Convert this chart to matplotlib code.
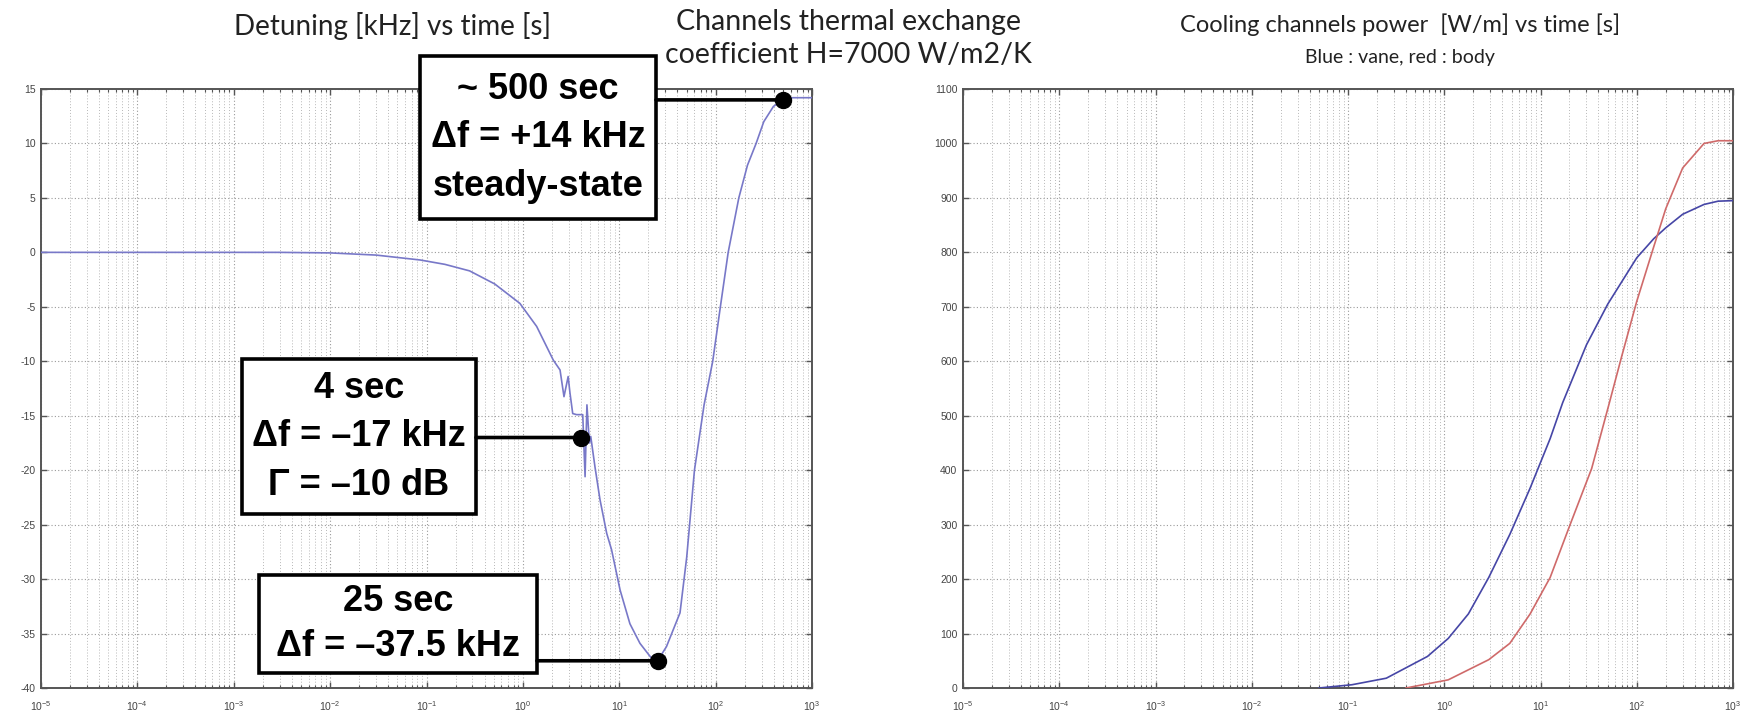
import numpy as np
import matplotlib
matplotlib.use("Agg")
import matplotlib.pyplot as plt
import matplotlib.transforms as mtransforms
from matplotlib.patches import Rectangle
from matplotlib.ticker import LogLocator, MultipleLocator, NullFormatter

plt.rcParams["axes.unicode_minus"] = False

# ---- detuning vs time ----
det_t = [1e-5, 1e-4, 1e-3, 3e-3, 1e-2, 0.03, 0.086, 0.155, 0.28, 0.51, 0.93, 1.39,
         2.07, 2.43, 2.67, 2.95, 3.08, 3.29, 3.61, 4.18, 4.42, 4.62, 4.90, 5.06,
         5.60, 6.31, 7.41, 8.32, 10.2, 12.9, 16.4, 20.9, 22.4, 25.0, 30.9, 42.7,
         50.1, 60.3, 75.9, 93.3, 112, 135, 174, 214, 263, 316, 398, 500, 631, 1000]
det_khz = [0.0, 0.0, 0.0, 0.0, -0.05, -0.25, -0.7, -1.1, -1.7, -2.9, -4.68, -6.8,
           -9.9, -10.8, -13.25, -11.4, -12.9, -14.8, -14.9, -14.9, -20.6, -14.0, -17.5, -16.9,
           -19.7, -22.7, -25.8, -27.3, -31.0, -34.1, -35.9, -37.1, -37.4, -37.5, -36.2, -33.1,
           -28.0, -20.0, -14.0, -10.0, -5.0, 0.0, 5.0, 8.0, 10.0, 12.0, 13.4, 14.0, 14.2, 14.2]

# annotated operating points (time [s], detuning [kHz])
note_t = [500, 4, 25]
note_khz = [14, -17, -37.5]
note_text = ["~ 500 sec\n\u0394f = +14 kHz\nsteady-state",
             "4 sec\n\u0394f = \u201317 kHz\n\u0393 = \u201310 dB",
             "25 sec\n\u0394f = \u201337.5 kHz"]

# ---- cooling channel power vs time ----
vane_t = [0.05, 0.11, 0.25, 0.67, 1.1, 1.78, 2.9, 4.8, 7.8, 12.6, 17, 30, 50, 100,
          150, 200, 300, 500, 700, 1000]
vane_w = [0, 6, 18, 58, 91, 136, 203, 282, 367, 458, 524, 630, 705, 790,
          825, 845, 870, 888, 894, 895]
body_t = [0.4, 1.1, 2.9, 4.8, 7.8, 12.6, 20, 34, 52, 70, 100, 150, 200, 300,
          500, 700, 1000]
body_w = [0, 15, 52, 82, 136, 203, 297, 403, 524, 610, 710, 810, 880, 955,
          1000, 1005, 1005]

FIG_W, FIG_H = 1743, 720
fig = plt.figure(figsize=(FIG_W / 100, FIG_H / 100), dpi=100)
fig.patch.set_facecolor("white")


def px_axes(x0, y0, x1, y1):
    return fig.add_axes([x0 / FIG_W, 1 - y1 / FIG_H, (x1 - x0) / FIG_W, (y1 - y0) / FIG_H])


def style_axes(ax):
    ax.set_xscale("log")
    ax.set_xlim(1e-5, 1e3)
    ax.xaxis.set_major_locator(LogLocator(base=10, numticks=20))
    ax.xaxis.set_minor_locator(LogLocator(base=10, subs=np.arange(2, 10), numticks=20))
    ax.xaxis.set_minor_formatter(NullFormatter())
    ax.grid(True, which="major", axis="both", linestyle=(0, (1, 2)), color="#9a9a9a", lw=0.8)
    ax.grid(True, which="minor", axis="x", linestyle=(0, (1, 2)), color="#b8b8b8", lw=0.7)
    ax.tick_params(which="both", direction="in", top=True, right=True,
                   colors="#555555", labelcolor="#444444", labelsize=7.5)
    ax.tick_params(axis="y", pad=4)
    ax.tick_params(axis="x", pad=8)
    ax.tick_params(which="major", length=4, width=1.0)
    ax.tick_params(which="minor", length=2.5, width=0.8)
    for s in ax.spines.values():
        s.set_color("#555555")
        s.set_linewidth(1.4)
    for lab in ax.get_xticklabels() + ax.get_yticklabels():
        lab.set_fontfamily("Liberation Sans")


# left panel: detuning
ax1 = px_axes(41, 89, 812, 688)
style_axes(ax1)
ax1.set_ylim(-40, 15)
ax1.yaxis.set_major_locator(MultipleLocator(5))
ax1.plot(det_t, det_khz, color="#7878c8", lw=1.2, zorder=3)

# right panel: cooling power
ax2 = px_axes(963, 89, 1733, 688)
style_axes(ax2)
ax2.set_ylim(0, 1100)
ax2.yaxis.set_major_locator(MultipleLocator(100))
ax2.plot(vane_t, vane_w, color="#4646a6", lw=1.2, zorder=3)
ax2.plot(body_t, body_w, color="#cf6a6a", lw=1.2, zorder=3)

# annotation boxes (axes-fraction extents: x0, x1, y0, y1)
boxes = [(0.4916, 0.7977, 0.783, 1.055),
         (0.2607, 0.5642, 0.290, 0.549),
         (0.2827, 0.6433, 0.025, 0.1886)]
spacing = [1.5, 1.5, 1.38]
blend = mtransforms.blended_transform_factory(ax1.transAxes, ax1.transData)
for (x0, x1, y0, y1), t, v, txt, ls in zip(boxes, note_t, note_khz, note_text, spacing):
    ax1.add_patch(Rectangle((x0, y0), x1 - x0, y1 - y0, transform=ax1.transAxes,
                            facecolor="white", edgecolor="black", lw=2.6,
                            clip_on=False, zorder=6))
    ax1.text((x0 + x1) / 2, (y0 + y1) / 2, txt, transform=ax1.transAxes,
             ha="center", va="center", fontsize=26, fontweight="bold",
             family="Liberation Sans", linespacing=ls, zorder=7, clip_on=False)
    ax1.annotate("", xy=(t, v), xycoords="data", xytext=(x1, v), textcoords=blend,
                 arrowprops=dict(arrowstyle="-", lw=2.6, color="black",
                                 shrinkA=0, shrinkB=0), zorder=6, annotation_clip=False)
    ax1.plot([t], [v], "o", color="black", ms=11.5, zorder=8, clip_on=False)

# titles
TXT = dict(ha="center", va="center", family="Lato", color="#222222")
fig.text(393 / FIG_W, 1 - 26 / FIG_H, "Detuning [kHz] vs time [s]", fontsize=20, **TXT)
fig.text(848 / FIG_W, 1 - 22 / FIG_H, "Channels thermal exchange", fontsize=20.5, **TXT)
fig.text(848 / FIG_W, 1 - 55 / FIG_H, "coefficient H=7000 W/m2/K", fontsize=20.5, **TXT)
fig.text(1400 / FIG_W, 1 - 25 / FIG_H, "Cooling channels power  [W/m] vs time [s]",
         fontsize=17, **TXT)
fig.text(1400 / FIG_W, 1 - 57 / FIG_H, "Blue : vane, red : body", fontsize=14, **TXT)

fig.savefig("out.png", dpi=100, facecolor="white")
